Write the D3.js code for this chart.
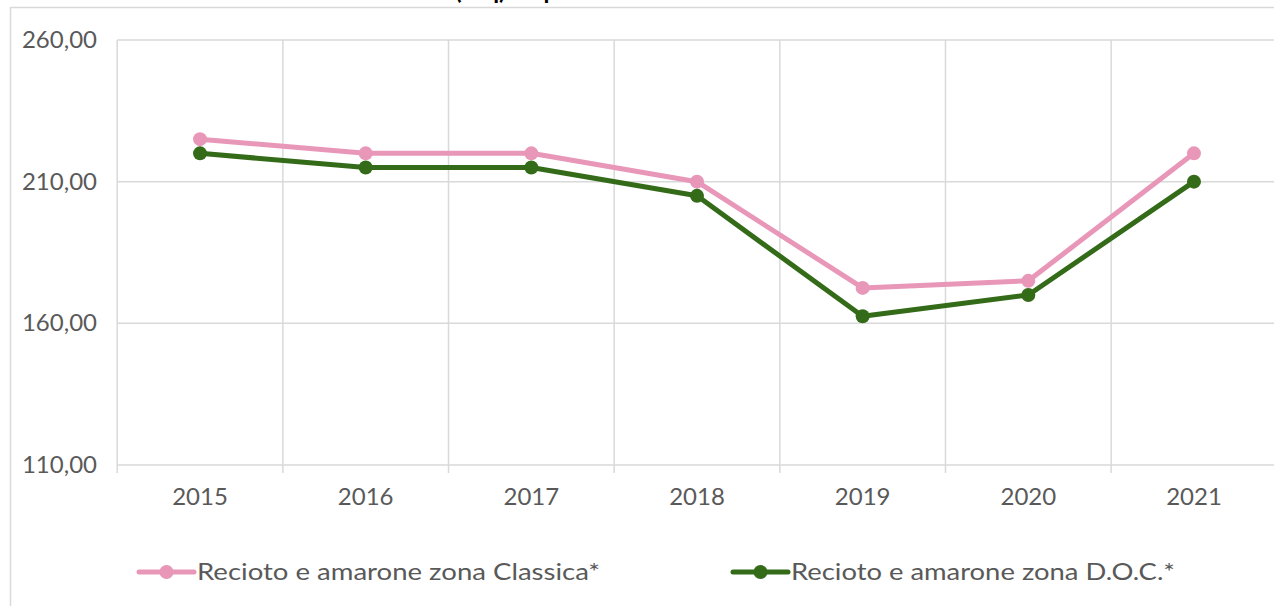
<!DOCTYPE html>
<html>
<head>
<meta charset="utf-8">
<script src="https://cdn.jsdelivr.net/npm/d3@7"></script>
<style>
  html, body { margin: 0; padding: 0; background: #fff; }
  svg { display: block; }
  text { font-family: "Lato", "Open Sans", sans-serif; fill: #595959; }
</style>
</head>
<body>
<svg id="chart" width="1274" height="606"></svg>
<script>
const years = ["2015", "2016", "2017", "2018", "2019", "2020", "2021"];
const classica = [225, 220, 220, 210, 172.5, 175, 220];
const doc = [220, 215, 215, 205, 162.5, 170, 210];
const yTicks = [110, 160, 210, 260];
const seriesNames = ["Recioto e amarone zona Classica*", "Recioto e amarone zona D.O.C.*"];
const seriesColors = ["#e897b8", "#336b19"];
const titleParts = ["Prezzo medio uve ", "(€/q) Valpolicella"];

const svg = d3.select("#chart");
const W = 1274, H = 606;

// outer chart border
svg.append("rect").attr("x", 10.5).attr("y", 7.5).attr("width", W + 20).attr("height", H + 20)
  .attr("fill", "none").attr("stroke", "#d9d9d9").attr("stroke-width", 1.5);

// title (cut off at the top edge, only descenders visible)
const title = svg.append("g").style("font-weight", "bold").style("font-size", "24px");
title.append("text").attr("x", 452).attr("y", -1).attr("text-anchor", "end").style("fill", "#000").text(titleParts[0]);
title.append("text").attr("x", 455).attr("y", -1).attr("text-anchor", "start").style("fill", "#000").text(titleParts[1]);

const x = d3.scaleBand().domain(years).range([117.2, 1276.8]);
const y = d3.scaleLinear().domain([110, 260]).range([465, 40]);

const fmt = v => d3.format(".2f")(v).replace(".", ",");

// horizontal gridlines
svg.append("g").selectAll("line").data(yTicks).join("line")
  .attr("x1", x.range()[0]).attr("x2", x.range()[1])
  .attr("y1", d => y(d)).attr("y2", d => y(d))
  .attr("stroke", "#d9d9d9").attr("stroke-width", 1.5);

// vertical gridlines (category boundaries)
const bounds = years.map(d => x(d)).concat([x.range()[1]]);
svg.append("g").selectAll("line").data(bounds).join("line")
  .attr("x1", d => d).attr("x2", d => d)
  .attr("y1", y(260)).attr("y2", y(110) + 8)
  .attr("stroke", "#d9d9d9").attr("stroke-width", 1.5);

// y labels
svg.append("g").selectAll("text").data(yTicks).join("text")
  .attr("x", 97).attr("y", d => y(d) + 8).attr("text-anchor", "end")
  .style("font-size", "24px")
  .text(d => fmt(d));

// x labels
svg.append("g").selectAll("text").data(years).join("text")
  .attr("x", d => x(d) + x.bandwidth() / 2).attr("y", 505).attr("text-anchor", "middle")
  .style("font-size", "24px")
  .text(d => d);

const line = d3.line().x((d, i) => x(years[i]) + x.bandwidth() / 2).y(d => y(d));
[classica, doc].forEach((vals, k) => {
  const g = svg.append("g");
  g.append("path").datum(vals).attr("d", line).attr("fill", "none")
    .attr("stroke", seriesColors[k]).attr("stroke-width", 5).attr("stroke-linejoin", "round").attr("stroke-linecap", "round");
  g.selectAll("circle").data(vals).join("circle")
    .attr("cx", (d, i) => x(years[i]) + x.bandwidth() / 2).attr("cy", d => y(d))
    .attr("r", 7).attr("fill", seriesColors[k]);
});

// legend
const legendX = [139, 733];
const legendW = [403, 384];
const leg = svg.append("g");
seriesNames.forEach((name, k) => {
  const lx = legendX[k];
  leg.append("line").attr("x1", lx).attr("x2", lx + 55).attr("y1", 572).attr("y2", 572)
    .attr("stroke", seriesColors[k]).attr("stroke-width", 5).attr("stroke-linecap", "round");
  leg.append("circle").attr("cx", lx + 27.5).attr("cy", 572).attr("r", 7).attr("fill", seriesColors[k]);
  leg.append("text").attr("x", lx + 58).attr("y", 580).style("font-size", "24px")
    .attr("textLength", legendW[k]).attr("lengthAdjust", "spacingAndGlyphs").text(name);
});
</script>
</body>
</html>
